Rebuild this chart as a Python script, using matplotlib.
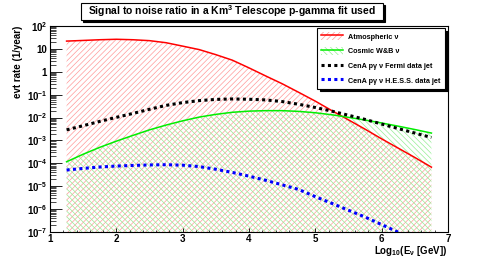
import matplotlib
matplotlib.use('Agg')
import matplotlib.pyplot as plt
from matplotlib.lines import Line2D
from matplotlib.patches import Patch, Rectangle
from matplotlib.ticker import FixedLocator, FixedFormatter, LogLocator, MultipleLocator, NullFormatter

# ---------------- data ----------------
energy = [1.25, 1.5, 1.75, 2.0, 2.25, 2.5, 2.75, 3.0, 3.25, 3.5, 3.75, 4.0,
          4.25, 4.5, 4.75, 5.0, 5.25, 5.5, 5.75, 6.0, 6.25, 6.5, 6.75]
atmospheric = [21.9, 23.4, 25.1, 26.3, 25.1, 22.9, 18.6, 13.2, 9.3, 5.6, 3.2, 1.48,
               0.66, 0.30, 0.126, 0.052, 0.020, 7.9e-3, 3.1e-3, 1.17e-3, 4.6e-4, 1.8e-4, 6.8e-5]
cosmic = [1.17e-4, 2.5e-4, 5.0e-4, 9.3e-4, 1.66e-3, 2.9e-3, 4.7e-3, 7.2e-3, 1.05e-2, 1.38e-2,
          1.70e-2, 1.91e-2, 2.0e-2, 2.0e-2, 1.86e-2, 1.62e-2, 1.32e-2, 1.02e-2, 7.8e-3,
          5.8e-3, 4.2e-3, 3.0e-3, 2.1e-3]
fermi_jet = [2.9e-3, 4.4e-3, 6.8e-3, 1.02e-2, 1.51e-2, 2.3e-2, 3.4e-2, 4.5e-2, 5.5e-2, 6.2e-2,
             6.5e-2, 6.3e-2, 5.9e-2, 5.0e-2, 3.8e-2, 2.75e-2, 1.9e-2, 1.26e-2, 8.3e-3,
             5.2e-3, 3.3e-3, 2.1e-3, 1.35e-3]
hess_jet = [5.1e-5, 6.0e-5, 6.9e-5, 7.6e-5, 8.1e-5, 8.5e-5, 8.7e-5, 8.3e-5, 7.2e-5, 5.5e-5,
            4.0e-5, 2.75e-5, 1.82e-5, 1.15e-5, 7.2e-6, 3.5e-6, 1.78e-6, 8.9e-7, 4.5e-7,
            2.1e-7, 9.8e-8, 4.5e-8, 2.0e-8]

series_labels = ['Atmospheric \u03bd', 'Cosmic W&B \u03bd',
                 'CenA p\u03b3 \u03bd Fermi data jet', 'CenA p\u03b3 \u03bd H.E.S.S. data jet']

ytick_vals = [1e-7, 1e-6, 1e-5, 1e-4, 1e-3, 1e-2, 1e-1, 1, 10, 100]
ytick_labels = [r'$10^{-7}$', r'$10^{-6}$', r'$10^{-5}$', r'$10^{-4}$', r'$10^{-3}$',
                r'$10^{-2}$', r'$10^{-1}$', '1', '10', r'$10^{2}$']
xtick_vals = [1, 2, 3, 4, 5, 6, 7]
xtick_labels = ['1', '2', '3', '4', '5', '6', '7']

title = 'Signal to noise ratio in a Km$^{3}$ Telescope p-gamma fit used'
xlabel = r'Log$_{10}$(E$_{\nu}$ [GeV])'
ylabel = 'evt rate (1/year)'

# ---------------- style ----------------
plt.rcParams.update({
    'font.family': ['Liberation Sans', 'DejaVu Sans'],
    'font.weight': 'bold',
    'mathtext.fontset': 'custom',
    'mathtext.rm': 'Liberation Sans:bold',
    'mathtext.bf': 'Liberation Sans:bold',
    'mathtext.it': 'Liberation Sans:bold',
    'mathtext.sf': 'Liberation Sans:bold',
    'hatch.linewidth': 0.5,
})

RED_H = '#ff9a9a'
GRN_H = '#96ee96'
W, H = 498, 259
fig = plt.figure(figsize=(W / 100, H / 100), dpi=100)
fig.patch.set_facecolor('white')
ax = fig.add_axes([50 / W, 1 - 232 / H, 398 / W, 206 / H])

ymin = 1e-7
# hatched fills (down to the axis floor)
ax.fill_between(energy, atmospheric, ymin, facecolor='none', edgecolor=RED_H,
                hatch='//////', linewidth=0)
ax.fill_between(energy, cosmic, ymin, facecolor='none', edgecolor=GRN_H,
                hatch='\\\\\\\\\\\\', linewidth=0)

ax.plot(energy, atmospheric, color='#ff0000', lw=1.1)
ax.plot(energy, cosmic, color='#00ee00', lw=1.1)
ax.plot(energy, fermi_jet, color='black', lw=2.2, linestyle=(0, (1, 1.1)),
        dash_capstyle='butt')
ax.plot(energy, hess_jet, color='#0000ff', lw=2.2, linestyle=(0, (1, 1.1)),
        dash_capstyle='butt')

ax.set_yscale('log')
ax.set_xlim(1, 7)
ax.set_ylim(1e-7, 1e2)

ax.yaxis.set_major_locator(FixedLocator(ytick_vals))
ax.yaxis.set_major_formatter(FixedFormatter(ytick_labels))
ax.yaxis.set_minor_locator(LogLocator(base=10, subs=[2, 3, 4, 5, 6, 7, 8, 9], numticks=20))
ax.yaxis.set_minor_formatter(NullFormatter())
ax.xaxis.set_major_locator(FixedLocator(xtick_vals))
ax.xaxis.set_major_formatter(FixedFormatter(xtick_labels))
ax.xaxis.set_minor_locator(MultipleLocator(0.2))

ax.tick_params(axis='y', which='major', direction='in', length=8.5, width=0.6,
               labelsize=7, pad=2)
ax.tick_params(axis='y', which='minor', direction='in', length=4.5, width=0.5)
ax.tick_params(axis='x', which='major', direction='in', length=3, width=0.6,
               labelsize=7, pad=1.5)
ax.tick_params(axis='x', which='minor', direction='in', length=1.5, width=0.5)
ax.tick_params(top=False, right=False)
for s in ax.spines.values():
    s.set_linewidth(0.8)

# axis titles
fig.text(447 / W, 1 - 243.5 / H, xlabel, ha='right', va='top', fontsize=7,
         fontweight='bold')
fig.text(18 / W, 1 - 26 / H, ylabel, ha='center', va='top', rotation=90,
         fontsize=7, fontweight='bold')

# title box with shadow
fig.patches.append(Rectangle((82.5 / W, 1 - 21.5 / H), 302 / W, 17 / H,
                             transform=fig.transFigure, facecolor='black',
                             edgecolor='black', lw=0.8, zorder=1))
fig.patches.append(Rectangle((81 / W, 1 - 20 / H), 302 / W, 17 / H,
                             transform=fig.transFigure, facecolor='white',
                             edgecolor='black', lw=0.8, zorder=2))
fig.text(232 / W, 1 - 11.5 / H, title, ha='center', va='center', fontsize=7.5,
         fontweight='bold', zorder=3)

# legend
handles = [
    (Patch(facecolor='none', edgecolor=RED_H, hatch='//////', lw=0),
     Line2D([], [], color='#ff0000', lw=1.1)),
    (Patch(facecolor='none', edgecolor=GRN_H, hatch='\\\\\\\\\\\\', lw=0),
     Line2D([], [], color='#00ee00', lw=1.1)),
    Line2D([], [], color='black', lw=2.2, linestyle=(0, (1, 1.1)), dash_capstyle='butt'),
    Line2D([], [], color='#0000ff', lw=2.2, linestyle=(0, (1, 1.1)), dash_capstyle='butt'),
]
leg = fig.legend(handles, series_labels, loc='upper left',
                 bbox_to_anchor=(317 / W, 1 - 95 / H, 128 / W, 67 / H),
                 bbox_transform=fig.transFigure, mode='expand', borderaxespad=0,
                 fontsize=5.2, frameon=True, fancybox=False, edgecolor='black',
                 framealpha=1, handlelength=3.0, handleheight=1.4,
                 handletextpad=0.7, labelspacing=0.85, borderpad=0.55,
                 shadow={'color': 'black', 'alpha': 1.0})
leg.get_frame().set_linewidth(0.8)

fig.savefig('out.png', dpi=100)
